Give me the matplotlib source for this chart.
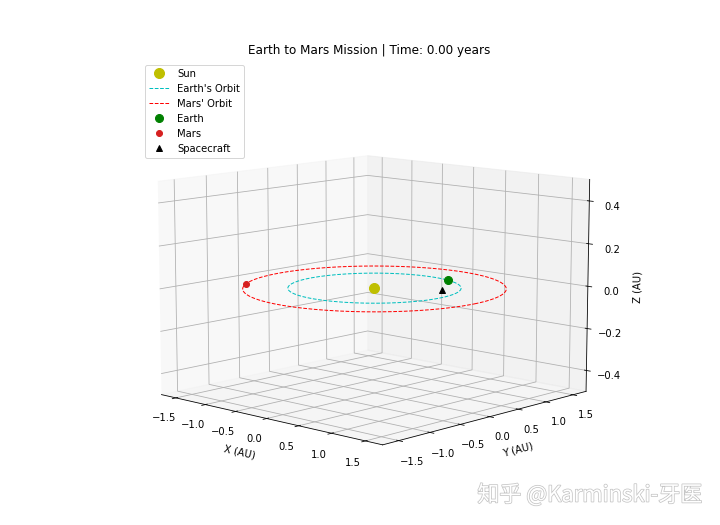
import numpy as np
import matplotlib
matplotlib.use("Agg")
from matplotlib import pyplot as plt
import matplotlib.patheffects as pe

# Orbit radii (AU)
earth_radius = 1.0
mars_radius = 1.52

# Positions at time 0 (AU)
sun_pos = [0.0, 0.0, 0.0]
earth_pos = [0.30, 0.955, 0.0]
mars_pos = [-1.28, -0.825, 0.0]
craft_pos = [0.665, 0.43, 0.0]

# Axis ticks
xy_ticks = [-1.5, -1.0, -0.5, 0.0, 0.5, 1.0, 1.5]
z_ticks = [-0.4, -0.2, 0.0, 0.2, 0.4]

fig = plt.figure(figsize=(10, 7.305), dpi=72)
ax = fig.add_subplot(111, projection="3d")
ax.set_position([0.125, 0.056, 0.775, 0.77])
ax.set_box_aspect((4, 4, 2.85), zoom=1.15)

# Orbits are circles in the ecliptic plane
theta = np.linspace(0, 2 * np.pi, 200)
ax.plot([sun_pos[0]], [sun_pos[1]], [sun_pos[2]], "yo", markersize=10, label="Sun")
ax.plot(earth_radius * np.cos(theta), earth_radius * np.sin(theta), 0 * theta,
        "c--", linewidth=1, label="Earth's Orbit")
ax.plot(mars_radius * np.cos(theta), mars_radius * np.sin(theta), 0 * theta,
        "r--", linewidth=1, label="Mars' Orbit")
ax.plot([earth_pos[0]], [earth_pos[1]], [earth_pos[2]], "go", markersize=8, label="Earth")
ax.plot([mars_pos[0]], [mars_pos[1]], [mars_pos[2]], "o", color="#d62020", markersize=6, label="Mars")
ax.plot([craft_pos[0]], [craft_pos[1]], [craft_pos[2]], "k^", markersize=6, label="Spacecraft")

ax.set_xlim(-1.75, 1.75)
ax.set_ylim(-1.75, 1.75)
ax.set_zlim(-0.5, 0.5)
ax.set_xticks(xy_ticks)
ax.set_yticks(xy_ticks)
ax.set_zticks(z_ticks)
ax.set_xlabel("X (AU)")
ax.set_ylabel("Y (AU)")
ax.set_zlabel("Z (AU)")
ax.view_init(elev=10, azim=-47)

fig.suptitle("Earth to Mars Mission | Time: 0.00 years", x=0.5125, y=1 - 44 / 526, fontsize=12)

fig.legend(loc="upper left", bbox_to_anchor=(0.195, 0.885))

# watermark
fig.text(0.975, 0.035, "知乎 @Karminski-牙医", ha="right", va="bottom", fontsize=22,
         color="white", family=["Noto Sans CJK SC", "DejaVu Sans"],
         path_effects=[pe.withStroke(linewidth=1.5, foreground="#c4c4c4")])

fig.savefig("out.png", dpi=72)
